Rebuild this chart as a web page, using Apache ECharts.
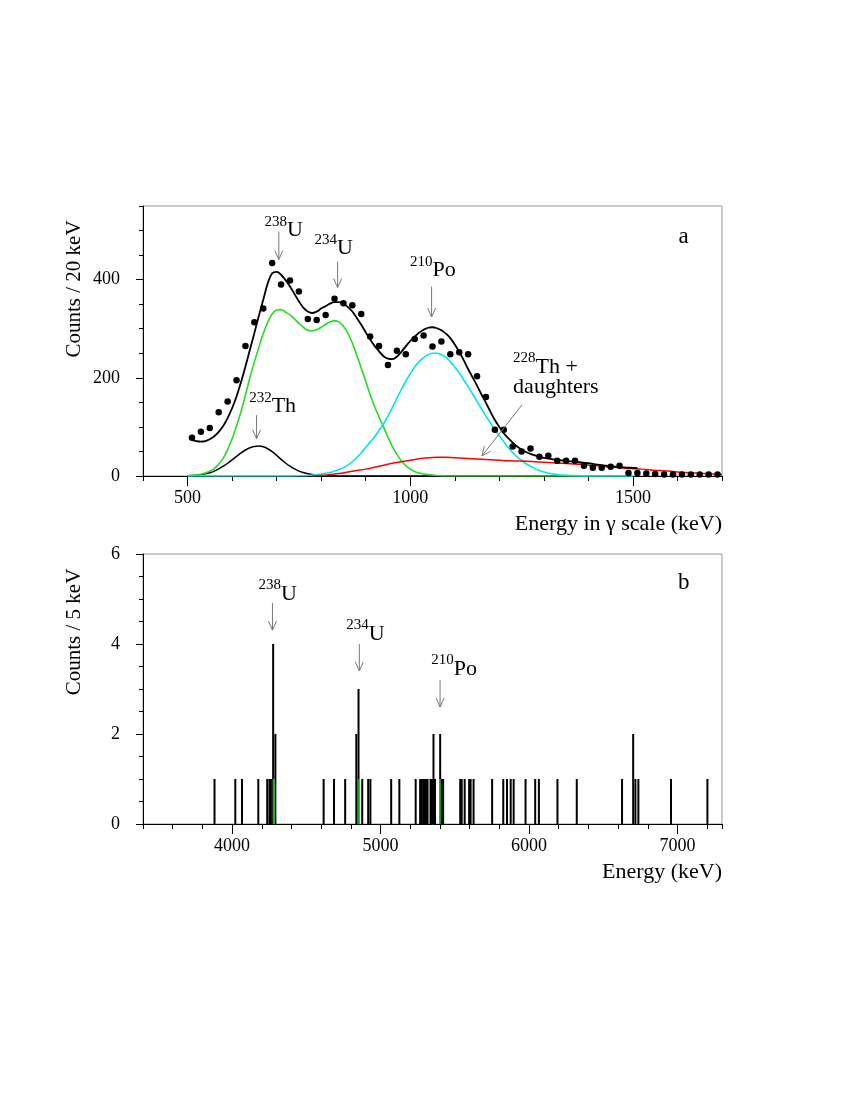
<!DOCTYPE html>
<html><head><meta charset="utf-8">
<script src="https://cdn.jsdelivr.net/npm/echarts@6/dist/echarts.min.js"></script>
<style>html,body{margin:0;padding:0;background:#fff}#c{width:850px;height:1100px}</style>
</head><body><div id="c"></div>
<script>
// ---------- Panel a: data points (Counts / 20 keV) ----------
const dotE = [510,530,550,570,590,610,630,650,670,690,710,730,750,770,790,810,830,850,870,890,910,930,950,970,990,1010,1030,1050,1070,1090,1110,1130,1150,1170,1190,1210,1230,1250,1270,1290,1310,1330,1350,1370,1390,1410,1430,1450,1470,1490,1510,1530,1550,1570,1590,1610,1630,1650,1670,1690];
const dotC = [78,90,98,130,152,195,265,313,341,434,390,398,376,320,318,328,361,352,348,330,284,265,226,255,248,279,286,264,274,248,252,248,203,161,94,94,60,50,56,39,41,31,31,31,21,17,17,19,21,6,6,5,4,3,3,3,3,3,3,3];

// total fit (black)
const totalE = [510,520,530,540,550,560,570,580,590,600,610,620,630,640,650,660,670,680,690,700,710,720,730,740,750,760,770,780,790,800,810,820,830,840,850,860,870,880,890,900,910,920,930,940,950,960,970,980,990,1000,1010,1020,1030,1040,1050,1060,1070,1080,1090,1100,1110,1120,1130,1140,1150,1160,1170,1180,1190,1200,1210,1220,1230,1240,1250,1260,1270,1280,1290,1300,1320,1340,1360,1380,1400,1420,1440,1460,1480,1500,1510];
const totalC = [73,71,70,71,75,81,90,102,118,138,162,191,223,257,291,326,359,392,413,416,410,399,386,371,356,343,335,332,335,341,346,351,354,354,351,344,335,322,308,293,278,265,254,244,239,238,243,253,264,275,284,292,298,302,303,301,297,290,281,268,253,236,218,201,184,166,149,131,114,100,87,77,68,60,54,49,45,42,39,37,34,32,30,28,26,23,21,19,17.5,16.5,16];

// fit components
const th232E = [500,510,520,530,540,550,560,570,580,590,600,610,620,630,640,650,660,670,680,690,700,710,720,730,740,750,760,770,780,790,800,820,840,900,1000,1100,1200,1300,1400,1500];
const th232C = [0.5,1,1.6,2.7,4.3,6.6,10,14.5,20,26,33,40,47,53,57.5,60,61,59.5,55.5,49.5,42,34,26.5,20,14.5,10,7,4.5,3,1.8,1,0.3,0,0,0,0,0,0,0,0];
const uraniumE = [500,510,520,530,540,550,560,570,580,590,600,610,620,630,640,650,660,670,680,690,700,710,720,730,740,750,760,770,780,790,800,810,820,830,840,850,860,870,880,890,900,910,920,930,940,950,960,970,980,990,1000,1010,1020,1030,1040,1050,1060,1070,1080,1100,1200,1300,1400,1500];
const uraniumC = [0,1,2,3.5,6,10,15,24,36,54,76,102,131,165,200,232,262,290,313,330,338,339,334,328,320,311,303,297,296,298,303,309,314,316,314,305,291,271,246,220,193,166,141,120,100,79,60,44,31,21,14,9,6,4,3,2,1,0.5,0,0,0,0,0,0];
const po210E = [500,600,700,760,770,780,790,800,810,820,830,840,850,860,870,880,890,900,910,920,930,940,950,960,970,980,990,1000,1010,1020,1030,1040,1050,1060,1070,1080,1090,1100,1110,1120,1130,1140,1150,1160,1170,1180,1190,1200,1210,1220,1230,1240,1250,1260,1270,1280,1290,1300,1310,1320,1330,1340,1350,1360,1380,1400,1450,1500];
const po210C = [0,0,0,0.5,1,2,3,4,5.5,7,10,13,17,22,29,38,47,58,69,80,93,106,122,140,158,176,193,208,222,233,241,247,250,250,247,242,233,222,210,196,182,167,152,137,122,108,95,82,70,58,48,39,32,25,20,15,11,8,6,4,3,2,1.5,1,0.5,0,0,0];
const th228E = [780,800,820,840,860,880,900,920,940,960,980,1000,1020,1040,1060,1080,1100,1120,1140,1160,1180,1200,1220,1240,1260,1280,1300,1320,1340,1360,1380,1400,1420,1440,1460,1480,1500,1520,1540,1560,1580,1600,1620,1640,1660,1680,1700];
const th228C = [0,1,3,5,8,11,14,18,22,26,29,32,35,37,38,38,37,36,35,34,33,32,31,30.5,30,29,28,27,26,25,24,22,21,19,18,16,15,14,12,11,10,8,7,6,5,4,3];

// ---------- Panel b: histogram (Counts / 5 keV) ----------
const histE = [3880,4020,4065,4175,4235,4250,4260,4275,4290,4615,4685,4760,4835,4850,4875,4915,4930,5070,5125,5235,5265,5275,5285,5295,5305,5315,5335,5345,5355,5365,5400,5410,5420,5535,5545,5565,5595,5605,5625,5750,5825,5850,5875,5895,5975,6040,6065,6190,6320,6625,6700,6715,6735,6955,7200];
const histC = [1,1,1,1,1,1,1,4,2,1,1,1,2,3,1,1,1,1,1,1,1,1,1,1,1,1,1,1,2,1,2,1,1,1,1,1,1,1,1,1,1,1,1,1,1,1,1,1,1,1,2,1,1,1,1];
const greenE = [4282,4855,5400];
const greenC = [1,1,1];

// ---------- tick labels ----------
const xTicksA = [500,1000,1500];
const yTicksA = [0,200,400];
const xTicksB = [4000,5000,6000,7000];
const yTicksB = [0,2,4,6];

const FONT = '"Liberation Serif","Times New Roman",serif';
const pair = (xs, ys) => xs.map((x, i) => [x, ys[i]]);
const plain = v => String(v);

const chart = echarts.init(document.getElementById('c'), null, {renderer: 'canvas'});

function majorX(grid, min, max, ticks) {
  return {type:'value', gridIndex:grid, min, max, position:'bottom',
    axisLine:{show:true, lineStyle:{color:'#000', width:1}},
    axisTick:{show:true, customValues:ticks, length:10, lineStyle:{color:'#000'}},
    axisLabel:{show:true, customValues:ticks, formatter:plain, margin:13, fontSize:18, color:'#000', fontFamily:FONT},
    splitLine:{show:false}};
}
function minorX(grid, min, max, interval) {
  return {type:'value', gridIndex:grid, min, max, interval, position:'bottom',
    axisLine:{show:false}, axisTick:{show:true, length:5, lineStyle:{color:'#000'}},
    axisLabel:{show:false}, splitLine:{show:false}};
}
function majorY(grid, min, max, ticks) {
  return {type:'value', gridIndex:grid, min, max, position:'left',
    axisLine:{show:true, lineStyle:{color:'#000', width:1}},
    axisTick:{show:true, customValues:ticks, length:7, lineStyle:{color:'#000'}},
    axisLabel:{show:true, customValues:ticks, formatter:plain, margin:23, fontSize:18, color:'#000', fontFamily:FONT},
    splitLine:{show:false}};
}
function minorY(grid, min, max, interval) {
  return {type:'value', gridIndex:grid, min, max, interval, position:'left',
    axisLine:{show:false}, axisTick:{show:true, length:4, lineStyle:{color:'#000'}},
    axisLabel:{show:false}, splitLine:{show:false}};
}

const lineS = (name, xs, ys, color, w) => ({
  name, type:'line', xAxisIndex:0, yAxisIndex:0, data:pair(xs, ys),
  smooth:0.4, showSymbol:false, symbol:'none',
  lineStyle:{color, width:w}, z:3, silent:true
});

chart.setOption({
  animation:false,
  backgroundColor:'#fff',
  grid:[
    {left:143, top:206, width:579, height:270, show:true, borderColor:'#999', borderWidth:1, backgroundColor:'transparent'},
    {left:143, top:554, width:579, height:270, show:true, borderColor:'#999', borderWidth:1, backgroundColor:'transparent'}
  ],
  xAxis:[
    majorX(0, 400, 1700, xTicksA),
    minorX(0, 400, 1700, 100),
    majorX(1, 3400, 7300, xTicksB),
    minorX(1, 3400, 7300, 200)
  ],
  yAxis:[
    majorY(0, 0, 550, yTicksA),
    minorY(0, 0, 550, 50),
    majorY(1, 0, 6, yTicksB),
    minorY(1, 0, 6, 0.5)
  ],
  series:[
    lineS('232Th', th232E, th232C, '#000', 1.5),
    lineS('238U+234U', uraniumE, uraniumC, '#22dd22', 1.6),
    lineS('210Po', po210E, po210C, '#00e5ee', 1.6),
    lineS('228Th', th228E, th228C, '#ff0000', 1.5),
    lineS('total', totalE, totalC, '#000', 1.8),
    {name:'data', type:'scatter', xAxisIndex:0, yAxisIndex:0, data:pair(dotE, dotC),
      symbol:'circle', symbolSize:6.5, itemStyle:{color:'#000', opacity:1}, z:4, silent:true},
    {name:'hist', type:'bar', xAxisIndex:2, yAxisIndex:2, data:pair(histE, histC),
      barWidth:2, barGap:'-100%', itemStyle:{color:'#000'}, z:3, silent:true},
    {name:'hist2', type:'bar', xAxisIndex:2, yAxisIndex:2, data:pair(greenE, greenC),
      barWidth:1.5, barGap:'-100%', itemStyle:{color:'#00ee00'}, z:4, silent:true}
  ]
});

// ---------- annotations (in data coordinates) ----------
const annA = [
  {iso:'238', el:'U', x:716, y:488, ax:705, ay0:498, ay1:441},
  {iso:'234', el:'U', x:828, y:451, ax:837, ay0:437, ay1:384},
  {iso:'210', el:'Po', x:1051, y:406, ax:1048, ay0:386, ay1:324},
  {iso:'232', el:'Th', x:691, y:129, ax:655, ay0:124, ay1:76}
];
const annB = [
  {iso:'238', el:'U', x:4307, y:4.98, ax:4272, ay0:4.91, ay1:4.31},
  {iso:'234', el:'U', x:4899, y:4.09, ax:4857, ay0:4.0, ay1:3.4},
  {iso:'210', el:'Po', x:5495, y:3.31, ax:5401, ay0:3.2, ay1:2.6}
];

const rich = {
  s:{fontSize:15, fontFamily:FONT, color:'#000', verticalAlign:'top', lineHeight:14},
  n:{fontSize:22, fontFamily:FONT, color:'#000', verticalAlign:'bottom', lineHeight:27}
};
function arrow(p0, p1) {
  const dx = p1[0]-p0[0], dy = p1[1]-p0[1], L = Math.hypot(dx, dy), ux = dx/L, uy = dy/L;
  const h = 9, w = 4;
  const bx = p1[0]-ux*h, by = p1[1]-uy*h;
  return [
    {type:'line', silent:true, z:100, shape:{x1:p0[0], y1:p0[1], x2:p1[0], y2:p1[1]}, style:{stroke:'#777', lineWidth:1}},
    {type:'polyline', silent:true, z:100, shape:{points:[[bx-uy*w, by+ux*w],[p1[0],p1[1]],[bx+uy*w, by-ux*w]]}, style:{stroke:'#777', lineWidth:1, fill:null}}
  ];
}
function isoLabel(p, a, align) {
  return {type:'text', silent:true, z:100, x:p[0], y:p[1]+5,
    style:{text:'{s|'+a.iso+'}{n|'+a.el+'}', rich, align:align||'center', verticalAlign:'bottom'}};
}
const g = [];
function addAnn(list, xi, yi) {
  list.forEach(a => {
    const f = {xAxisIndex:xi, yAxisIndex:yi};
    g.push(isoLabel(chart.convertToPixel(f, [a.x, a.y]), a));
    g.push(...arrow(chart.convertToPixel(f, [a.ax, a.ay0]), chart.convertToPixel(f, [a.ax, a.ay1])));
  });
}
addAnn(annA, 0, 0);
addAnn(annB, 2, 2);

// 228Th + daughters
const fa = {xAxisIndex:0, yAxisIndex:0};
const p228 = chart.convertToPixel(fa, [1231, 210]);
g.push(isoLabel(p228, {iso:'228', el:'Th +'}, 'left'));
const pd = chart.convertToPixel(fa, [1231, 169]);
g.push({type:'text', silent:true, z:100, x:pd[0], y:pd[1]+5, style:{text:'daughters', fontSize:22, fontFamily:FONT, fill:'#000', align:'left', verticalAlign:'bottom'}});
g.push(...arrow(chart.convertToPixel(fa, [1251, 145]), chart.convertToPixel(fa, [1161, 41])));

// panel letters
const pa = chart.convertToPixel(fa, [1614, 486]);
g.push({type:'text', silent:true, x:pa[0], y:pa[1], style:{text:'a', fontSize:23, fontFamily:FONT, fill:'#000', align:'center', verticalAlign:'middle'}});
const pb = chart.convertToPixel({xAxisIndex:2, yAxisIndex:2}, [7043, 5.36]);
g.push({type:'text', silent:true, x:pb[0], y:pb[1], style:{text:'b', fontSize:23, fontFamily:FONT, fill:'#000', align:'center', verticalAlign:'middle'}});

// axis titles
g.push({type:'text', silent:true, x:74, y:289, rotation:Math.PI/2, style:{text:'Counts / 20 keV', fontSize:21, fontFamily:FONT, fill:'#000', align:'center', verticalAlign:'middle'}});
g.push({type:'text', silent:true, x:74, y:632, rotation:Math.PI/2, style:{text:'Counts / 5 keV', fontSize:21, fontFamily:FONT, fill:'#000', align:'center', verticalAlign:'middle'}});
g.push({type:'text', silent:true, x:722, y:524, style:{text:'Energy in \u03b3 scale (keV)', fontSize:22, fontFamily:FONT, fill:'#000', align:'right', verticalAlign:'middle'}});
g.push({type:'text', silent:true, x:722, y:872, style:{text:'Energy (keV)', fontSize:22, fontFamily:FONT, fill:'#000', align:'right', verticalAlign:'middle'}});

chart.setOption({graphic:g});
</script>
</body></html>
